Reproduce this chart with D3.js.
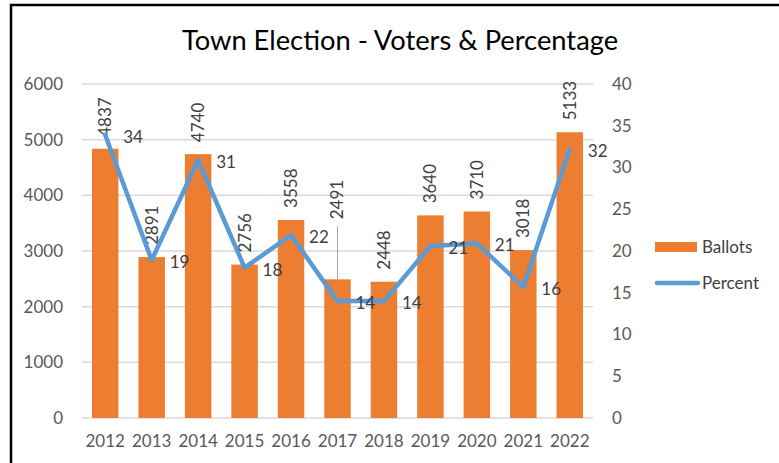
<!DOCTYPE html>
<html>
<head>
<meta charset="utf-8">
<script src="https://cdn.jsdelivr.net/npm/d3@7"></script>
<style>
  html, body { margin: 0; padding: 0; background: #fff; }
  svg { display: block; font-family: Lato, "Open Sans", sans-serif; }
</style>
</head>
<body>
<svg id="viz" width="779" height="463"></svg>
<script>
const years = ["2012", "2013", "2014", "2015", "2016", "2017", "2018", "2019", "2020", "2021", "2022"];
const ballots = [4837, 2891, 4740, 2756, 3558, 2491, 2448, 3640, 3710, 3018, 5133];
const percent = [33.9, 18.9, 30.9, 18.0, 21.9, 14.0, 14.0, 20.6, 20.9, 15.7, 32.2];
const leftTicks = [0, 1000, 2000, 3000, 4000, 5000, 6000];
const rightTicks = [0, 5, 10, 15, 20, 25, 30, 35, 40];
const leaderYears = ["2017"];

const svg = d3.select("#viz");
const width = 779, height = 463;

const orange = "#ED7D31", blue = "#5B9BD5", tickGray = "#595959", labelGray = "#404040";

// frame (right and bottom edges run off the picture)
svg.append("rect")
  .attr("x", 11).attr("y", 5)
  .attr("width", 820).attr("height", 520)
  .attr("fill", "#fff")
  .attr("stroke", "#000")
  .attr("stroke-width", 2.5);

const x = d3.scaleBand().domain(years).range([82, 593]).paddingInner(0.43).paddingOuter(0.215);
const yL = d3.scaleLinear().domain([0, 6000]).range([418, 84]);
const yR = d3.scaleLinear().domain([0, 40]).range([418, 84]);

// gridlines
svg.append("g")
  .selectAll("line")
  .data(leftTicks)
  .enter()
  .append("line")
  .attr("x1", 82).attr("x2", 593)
  .attr("y1", d => yL(d)).attr("y2", d => yL(d))
  .attr("stroke", "#D9D9D9")
  .attr("stroke-width", 1.5);

// left axis
const leftAxis = svg.append("g")
  .attr("transform", "translate(82,0)")
  .call(d3.axisLeft(yL).tickValues(leftTicks).tickSize(0).tickPadding(19).tickFormat(d3.format("d")));
leftAxis.select(".domain").remove();
leftAxis.selectAll("text").attr("fill", tickGray).attr("font-size", "17px").attr("font-family", "Lato, sans-serif");

// right axis
const rightAxis = svg.append("g")
  .attr("transform", "translate(593,0)")
  .call(d3.axisRight(yR).tickValues(rightTicks).tickSize(0).tickPadding(19));
rightAxis.select(".domain").remove();
rightAxis.selectAll("text").attr("fill", tickGray).attr("font-size", "17px").attr("font-family", "Lato, sans-serif");

// bottom axis
const bottomAxis = svg.append("g")
  .attr("transform", "translate(0,418)")
  .call(d3.axisBottom(x).tickSize(0).tickPadding(17));
bottomAxis.select(".domain").remove();
bottomAxis.selectAll("text").attr("fill", tickGray).attr("font-size", "17px").attr("font-family", "Lato, sans-serif");

// bars
svg.append("g")
  .selectAll("rect")
  .data(ballots)
  .enter()
  .append("rect")
  .attr("x", (d, i) => x(years[i]))
  .attr("y", d => yL(d))
  .attr("width", x.bandwidth())
  .attr("height", d => yL(0) - yL(d))
  .attr("fill", orange);

// bar labels (rotated); a leader line where the label had to be lifted
const barLabels = svg.append("g");
ballots.forEach((d, i) => {
  const cx = x(years[i]) + x.bandwidth() / 2;
  const lifted = leaderYears.includes(years[i]);
  const yEnd = yL(d) - (lifted ? 60 : 12);
  if (lifted) {
    barLabels.append("line")
      .attr("x1", cx).attr("x2", cx)
      .attr("y1", yEnd + 7).attr("y2", yL(d))
      .attr("stroke", "#A6A6A6")
      .attr("stroke-width", 1);
  }
  barLabels.append("text")
    .attr("transform", `translate(${cx},${yEnd}) rotate(-90)`)
    .attr("dy", "0.35em")
    .attr("fill", labelGray)
    .attr("font-size", "17px")
    .text(d);
});

// percent line
const line = d3.line()
  .x((d, i) => x(years[i]) + x.bandwidth() / 2)
  .y(d => yR(d));

svg.append("path")
  .datum(percent)
  .attr("d", line)
  .attr("fill", "none")
  .attr("stroke", blue)
  .attr("stroke-width", 4.5)
  .attr("stroke-linejoin", "round")
  .attr("stroke-linecap", "round");

svg.append("g")
  .selectAll("text")
  .data(percent)
  .enter()
  .append("text")
  .attr("x", (d, i) => x(years[i]) + x.bandwidth() / 2 + 18)
  .attr("y", d => yR(d) + 2)
  .attr("dy", "0.35em")
  .attr("fill", labelGray)
  .attr("font-size", "17px")
  .text(d => d3.format(".0f")(d));

// title, fitted to the reference width
const title = svg.append("text")
  .attr("x", 400)
  .attr("y", 50)
  .attr("text-anchor", "middle")
  .attr("fill", "#000")
  .attr("font-size", "26px")
  .text("Town Election - Voters & Percentage");
const tw = title.node().getComputedTextLength();
title.attr("font-size", (26 * 437 / tw).toFixed(1) + "px");

// legend
const legend = svg.append("g");
legend.append("rect")
  .attr("x", 655).attr("y", 242)
  .attr("width", 42).attr("height", 10)
  .attr("fill", orange);
legend.append("text")
  .attr("x", 702).attr("y", 247)
  .attr("dy", "0.35em")
  .attr("fill", labelGray)
  .attr("font-size", "17px")
  .text("Ballots");
legend.append("line")
  .attr("x1", 657).attr("x2", 698)
  .attr("y1", 283).attr("y2", 283)
  .attr("stroke", blue)
  .attr("stroke-width", 4.5)
  .attr("stroke-linecap", "round");
legend.append("text")
  .attr("x", 702).attr("y", 283)
  .attr("dy", "0.35em")
  .attr("fill", labelGray)
  .attr("font-size", "17px")
  .text("Percent");
</script>
</body>
</html>
